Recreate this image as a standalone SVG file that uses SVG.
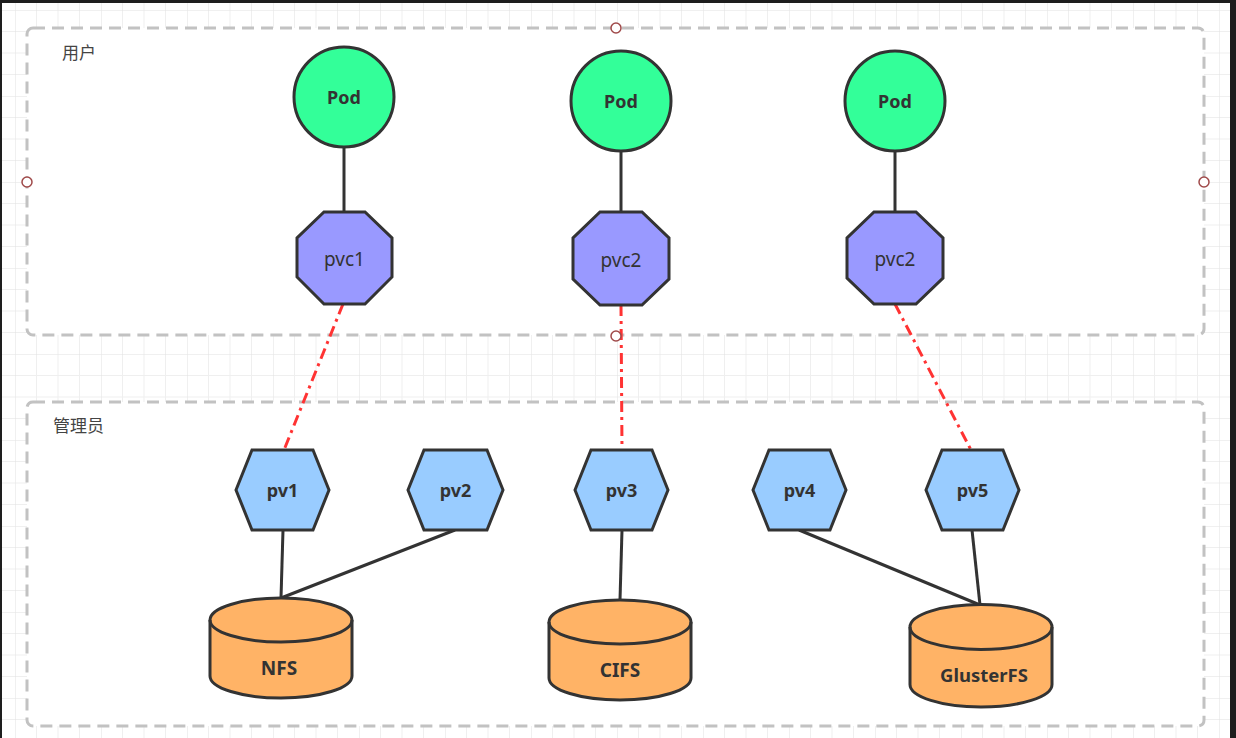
<svg xmlns="http://www.w3.org/2000/svg" width="1236" height="738" viewBox="0 0 1236 738">
<defs>
<pattern id="grid" x="15" y="10" width="86" height="86" patternUnits="userSpaceOnUse">
<path d="M21.5 0V86M43 0V86M64.5 0V86M0 21.5H86M0 43H86M0 64.5H86" stroke="#efefef" stroke-width="1" fill="none"/>
<path d="M0 0V86M0 0H86" stroke="#e2e2e2" stroke-width="1" fill="none"/>
</pattern>
<style>
.frame{fill:#fff;stroke:#c2c2c2;stroke-width:3;stroke-dasharray:12 7}
.pod{fill:#33ff99;stroke:#333;stroke-width:3}
.pvc{fill:#9999ff;stroke:#333;stroke-width:3}
.pv{fill:#99ccff;stroke:#333;stroke-width:3}
.db{fill:#ffb366;stroke:#333;stroke-width:3}
.t{font-family:"Noto Sans","Noto Sans CJK SC",sans-serif;fill:#333;text-anchor:middle}
.b{font-weight:bold}
.lbl{font-family:"Noto Sans CJK SC","Noto Sans",sans-serif;fill:#444;font-size:17px}
.solid{stroke:#333;stroke-width:3;fill:none}
.dd{stroke:#ff3333;stroke-width:3;fill:none;stroke-dasharray:11 5 3 5}
.handle{fill:#fff;stroke:#a04a4a;stroke-width:1.5}
</style>
</defs>
<rect width="1236" height="738" fill="#fff"/>
<rect width="1236" height="738" fill="url(#grid)"/>
<rect x="0" y="0" width="1236" height="3" fill="#1e1e1e"/>
<rect x="0" y="0" width="2" height="738" fill="#1e1e1e"/>
<rect x="1230" y="0" width="6" height="738" fill="#1e1e1e"/>

<g id="user-group">
<rect class="frame" x="27" y="28" width="1177" height="307" rx="6"/>
<text class="lbl" x="62" y="59">用户</text>
</g>
<g id="admin-group">
<rect class="frame" x="27" y="402" width="1177" height="324" rx="6"/>
<text class="lbl" x="53" y="432">管理员</text>
</g>

<g id="connectors">
<line class="solid" x1="344" y1="147" x2="344" y2="212"/>
<line class="solid" x1="621" y1="151" x2="621" y2="212"/>
<line class="solid" x1="895" y1="151" x2="895" y2="212"/>
<line class="dd" x1="343" y1="304" x2="284" y2="450"/>
<line class="dd" x1="621" y1="305" x2="622" y2="450"/>
<line class="dd" x1="895" y1="304" x2="971" y2="450"/>
<line class="solid" x1="283" y1="530" x2="281" y2="598"/>
<line class="solid" x1="455" y1="530" x2="281" y2="598"/>
<line class="solid" x1="622" y1="530" x2="620" y2="600"/>
<line class="solid" x1="799" y1="530" x2="980" y2="605"/>
<line class="solid" x1="972" y1="530" x2="980" y2="605"/>
</g>

<g id="pod1"><circle class="pod" cx="344" cy="97" r="50"/><text class="t b" x="344" y="104" font-size="18">Pod</text></g>
<g id="pod2"><circle class="pod" cx="621" cy="101" r="50"/><text class="t b" x="621" y="108" font-size="18">Pod</text></g>
<g id="pod3"><circle class="pod" cx="895" cy="101" r="50"/><text class="t b" x="895" y="108" font-size="18">Pod</text></g>

<g id="pvc1"><polygon class="pvc" points="324,212 365,212 392,238 392,277 365,304 324,304 297,277 297,238"/><text class="t" x="344.5" y="266" font-size="19">pvc1</text></g>
<g id="pvc2a"><polygon class="pvc" points="600,212 642,212 669,238 669,279 642,305 600,305 573,279 573,238"/><text class="t" x="621" y="267" font-size="19">pvc2</text></g>
<g id="pvc2b"><polygon class="pvc" points="874,212 916,212 943,238 943,278 916,304 874,304 847,278 847,238"/><text class="t" x="895" y="266" font-size="19">pvc2</text></g>

<g id="pv1"><polygon class="pv" points="236,490 252,450 313,450 329,490 313,530 252,530"/><text class="t b" x="282.5" y="497" font-size="18">pv1</text></g>
<g id="pv2"><polygon class="pv" points="408,490 424,450 487,450 503,490 487,530 424,530"/><text class="t b" x="455.5" y="497" font-size="18">pv2</text></g>
<g id="pv3"><polygon class="pv" points="575,490 591,450 652,450 668,490 652,530 591,530"/><text class="t b" x="621.5" y="497" font-size="18">pv3</text></g>
<g id="pv4"><polygon class="pv" points="753,490 769,450 830,450 846,490 830,530 769,530"/><text class="t b" x="799.5" y="497" font-size="18">pv4</text></g>
<g id="pv5"><polygon class="pv" points="926,490 942,450 1003,450 1019,490 1003,530 942,530"/><text class="t b" x="972.5" y="497" font-size="18">pv5</text></g>

<g id="nfs">
<path class="db" d="M210 620A71 22 0 0 1 352 620V676A71 22 0 0 1 210 676Z"/>
<path class="solid" d="M210 620A71 22 0 0 0 352 620"/>
<text class="t b" x="279" y="675" font-size="19">NFS</text>
</g>
<g id="cifs">
<path class="db" d="M549 622A71 22 0 0 1 691 622V678A71 22 0 0 1 549 678Z"/>
<path class="solid" d="M549 622A71 22 0 0 0 691 622"/>
<text class="t b" x="620" y="677" font-size="19">CIFS</text>
</g>
<g id="glusterfs">
<path class="db" d="M910 627A71 22.5 0 0 1 1052 627V684.5A71 22.5 0 0 1 910 684.5Z"/>
<path class="solid" d="M910 627A71 22.5 0 0 0 1052 627"/>
<text class="t b" x="984" y="682" font-size="18.5">GlusterFS</text>
</g>

<g id="handles">
<circle class="handle" cx="616" cy="28" r="5"/>
<circle class="handle" cx="27" cy="182" r="5"/>
<circle class="handle" cx="1204" cy="182" r="5"/>
<circle class="handle" cx="616" cy="336" r="5"/>
</g>
</svg>
